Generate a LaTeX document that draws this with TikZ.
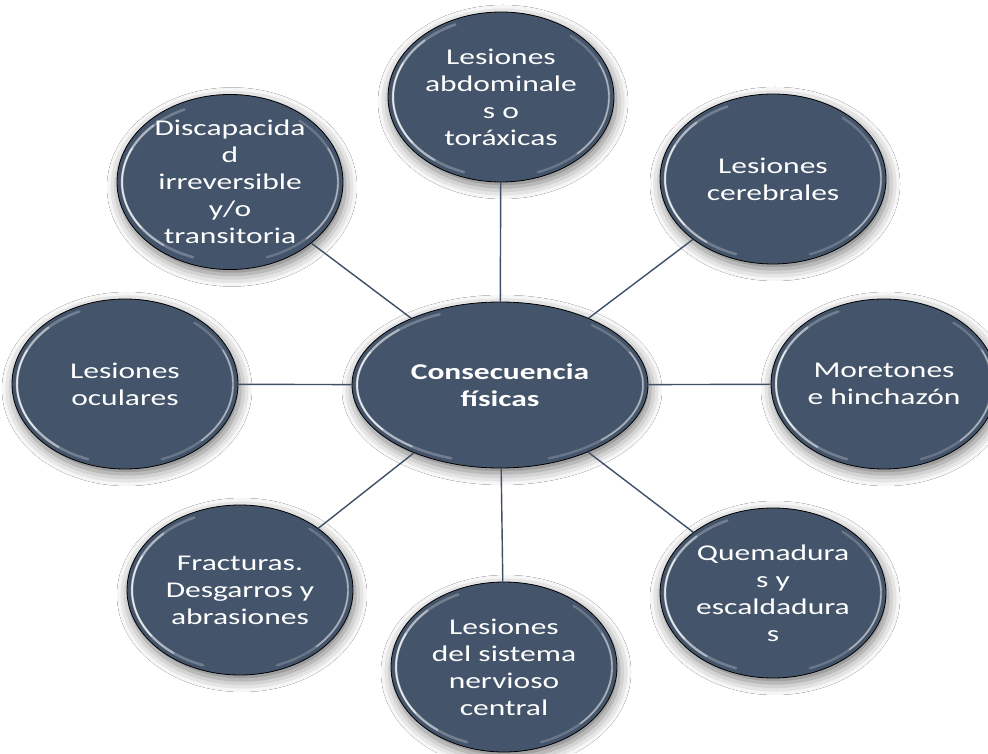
\documentclass[tikz,border=0pt]{standalone}
\usepackage{fontspec}
\setmainfont{Carlito}[FakeStretch=1.4]
\usetikzlibrary{shapes.geometric,shadows.blur}
\definecolor{bubfill}{HTML}{44546A}
\definecolor{linkcol}{HTML}{3F4F66}
\tikzset{
  bub/.style={ellipse, draw=black, line width=0.8pt, fill=bubfill, text=white,
    align=center, inner sep=0pt, minimum width=226pt, minimum height=170pt,
    font=\fontsize{22.5}{27}\selectfont,
    blur shadow={shadow xshift=2pt, shadow yshift=-5pt, shadow blur radius=12pt, shadow opacity=55}},
  hub/.style={bub, minimum width=296pt, minimum height=166pt,
    font=\bfseries\fontsize{22.5}{27}\selectfont},
  link/.style={draw=linkcol, line width=1.4pt},
  gloss/.style={white, line cap=round},
}
\newcommand\glossarc[6]{% node, rx, ry, start, end, style
  \draw[gloss,#6] (#1.center) ++(#4:#2pt and #3pt) arc[start angle=#4,end angle=#5,x radius=#2pt,y radius=#3pt];}
\newcommand\glossy[3]{%
  \glossarc{#1}{#2}{#3}{115}{250}{line width=2.6pt,opacity=0.25}
  \glossarc{#1}{#2}{#3}{135}{232}{line width=2pt,opacity=0.45}
  \glossarc{#1}{#2}{#3}{155}{215}{line width=1.4pt,opacity=0.7}
  \glossarc{#1}{#2}{#3}{-70}{50}{line width=2.4pt,opacity=0.2}
  \glossarc{#1}{#2}{#3}{-45}{25}{line width=1.4pt,opacity=0.45}}
\begin{document}
\begin{tikzpicture}[x=1pt,y=1pt]
\useasboundingbox (0,0) rectangle (988,753);
\fill[white] (0,0) rectangle (988,753);
\node[hub] (c) at (500,368) {Consecuencia\\físicas};
\node[bub] (t) at (501,656) {Lesiones\\abdominale\\s o\\toráxicas};
\node[bub] (d) at (230,571) {Discapacida\\d\\irreversible\\y/o\\transitoria};
\node[bub] (r) at (773,574) {Lesiones\\cerebrales};
\node[bub] (o) at (125,369) {Lesiones\\oculares};
\node[bub] (m) at (884,369) {Moretones\\e hinchazón};
\node[bub] (f) at (240,163) {Fracturas.\\Desgarros y\\abrasiones};
\node[bub] (b) at (504,86) {Lesiones\\del sistema\\nervioso\\central};
\node[bub] (q) at (773,160) {Quemadura\\s y\\escaldadura\\s};
\foreach \n in {t,d,r,o,m,f,b,q} {\glossy{\n}{108}{80}}
\glossy{c}{143}{78}
\foreach \n in {t,d,r,o,m,f,b,q} {\draw[link] (c) -- (\n);}
\end{tikzpicture}
\end{document}
